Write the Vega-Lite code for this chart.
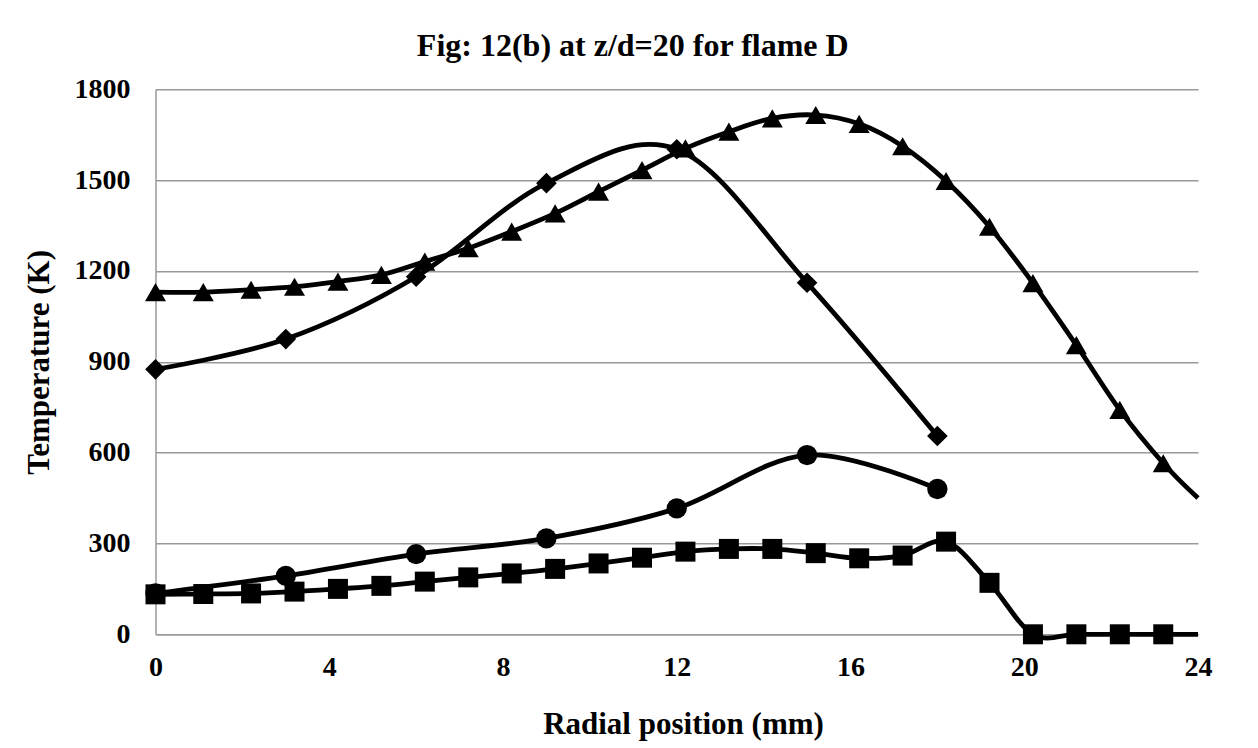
{
  "$schema": "https://vega.github.io/schema/vega-lite/v6.json",
  "width": 1042.5,
  "height": 545,
  "autosize": {"type": "none"},
  "padding": {"left": 155.5, "top": 89.3, "right": 60, "bottom": 113.7},
  "background": "white",
  "config": {"view": {"stroke": null}, "font": "Liberation Serif"},
  "title": {
    "text": "Fig: 12(b) at z/d=20 for flame D",
    "font": "Liberation Serif",
    "fontSize": 32,
    "fontWeight": "bold",
    "color": "black",
    "anchor": "middle",
    "frame": "group",
    "dx": -44,
    "baseline": "alphabetic",
    "offset": -13
  },
  "data": {
    "values": [
      {"s": "A", "x": 0, "y": 1130}, {"s": "A", "x": 1.1, "y": 1130}, {"s": "A", "x": 2.2, "y": 1138},
      {"s": "A", "x": 3.2, "y": 1148}, {"s": "A", "x": 4.2, "y": 1165}, {"s": "A", "x": 5.2, "y": 1187},
      {"s": "A", "x": 6.2, "y": 1231}, {"s": "A", "x": 7.2, "y": 1275}, {"s": "A", "x": 8.2, "y": 1330},
      {"s": "A", "x": 9.2, "y": 1390}, {"s": "A", "x": 10.2, "y": 1462}, {"s": "A", "x": 11.2, "y": 1533},
      {"s": "A", "x": 12.2, "y": 1605}, {"s": "A", "x": 13.2, "y": 1660}, {"s": "A", "x": 14.2, "y": 1704},
      {"s": "A", "x": 15.2, "y": 1715}, {"s": "A", "x": 16.2, "y": 1686}, {"s": "A", "x": 17.2, "y": 1612},
      {"s": "A", "x": 18.2, "y": 1497}, {"s": "A", "x": 19.2, "y": 1346}, {"s": "A", "x": 20.2, "y": 1160},
      {"s": "A", "x": 21.2, "y": 955}, {"s": "A", "x": 22.2, "y": 741}, {"s": "A", "x": 23.2, "y": 565},
      {"s": "A", "x": 24, "y": 450},
      {"s": "B", "x": 0, "y": 875}, {"s": "B", "x": 3, "y": 975}, {"s": "B", "x": 6, "y": 1181},
      {"s": "B", "x": 9, "y": 1490}, {"s": "B", "x": 12, "y": 1602}, {"s": "B", "x": 15, "y": 1161},
      {"s": "B", "x": 18, "y": 655},
      {"s": "C", "x": 0, "y": 135}, {"s": "C", "x": 3, "y": 193}, {"s": "C", "x": 6, "y": 265},
      {"s": "C", "x": 9, "y": 317}, {"s": "C", "x": 12, "y": 416}, {"s": "C", "x": 15, "y": 592},
      {"s": "C", "x": 18, "y": 480},
      {"s": "D", "x": 0, "y": 132}, {"s": "D", "x": 1.1, "y": 133}, {"s": "D", "x": 2.2, "y": 135},
      {"s": "D", "x": 3.2, "y": 141}, {"s": "D", "x": 4.2, "y": 150}, {"s": "D", "x": 5.2, "y": 160},
      {"s": "D", "x": 6.2, "y": 174}, {"s": "D", "x": 7.2, "y": 188}, {"s": "D", "x": 8.2, "y": 201},
      {"s": "D", "x": 9.2, "y": 216}, {"s": "D", "x": 10.2, "y": 234}, {"s": "D", "x": 11.2, "y": 253},
      {"s": "D", "x": 12.2, "y": 273}, {"s": "D", "x": 13.2, "y": 282}, {"s": "D", "x": 14.2, "y": 282},
      {"s": "D", "x": 15.2, "y": 268}, {"s": "D", "x": 16.2, "y": 251}, {"s": "D", "x": 17.2, "y": 260},
      {"s": "D", "x": 18.2, "y": 306}, {"s": "D", "x": 19.2, "y": 170}, {"s": "D", "x": 20.2, "y": 0},
      {"s": "D", "x": 21.2, "y": 0}, {"s": "D", "x": 22.2, "y": 0}, {"s": "D", "x": 23.2, "y": 0},
      {"s": "D", "x": 24, "y": 0}
    ]
  },
  "encoding": {
    "x": {
      "field": "x",
      "type": "quantitative",
      "scale": {"domain": [0, 24], "nice": false},
      "axis": {
        "values": [0, 4, 8, 12, 16, 20, 24],
        "format": "d",
        "title": "Radial position (mm)",
        "grid": false,
        "ticks": false,
        "domainColor": "#999999",
        "domainWidth": 1.5,
        "labelFlush": false,
        "labelFont": "Liberation Serif",
        "labelFontSize": 28,
        "labelFontWeight": "bold",
        "labelColor": "black",
        "labelPadding": 19,
        "titleFont": "Liberation Serif",
        "titleFontSize": 31,
        "titleFontWeight": "bold",
        "titleColor": "black",
        "titleX": 527.5,
        "titleY": 99,
        "titleAlign": "center",
        "titleBaseline": "alphabetic"
      }
    },
    "y": {
      "field": "y",
      "type": "quantitative",
      "scale": {"domain": [0, 1800], "nice": false},
      "axis": {
        "values": [0, 300, 600, 900, 1200, 1500, 1800],
        "format": "d",
        "title": "Temperature (K)",
        "grid": true,
        "gridColor": "#999999",
        "gridWidth": 1.5,
        "ticks": false,
        "domainColor": "#999999",
        "domainWidth": 1.5,
        "labelFlush": false,
        "labelFont": "Liberation Serif",
        "labelFontSize": 28,
        "labelFontWeight": "bold",
        "labelColor": "black",
        "labelPadding": 25.5,
        "labelBaseline": "middle",
        "titleFont": "Liberation Serif",
        "titleFontSize": 31,
        "titleFontWeight": "bold",
        "titleColor": "black",
        "titleAngle": -90,
        "titleX": -116,
        "titleY": 272.5,
        "titleAlign": "center",
        "titleBaseline": "middle"
      }
    }
  },
  "layer": [
    {
      "mark": {"type": "line", "interpolate": "cardinal", "strokeWidth": 4.8, "color": "black"},
      "encoding": {"detail": {"field": "s", "type": "nominal"}}
    },
    {
      "transform": [{"filter": "datum.x < 24"}],
      "mark": {"type": "point", "filled": true, "color": "black", "opacity": 1},
      "encoding": {
        "shape": {
          "field": "s",
          "type": "nominal",
          "scale": {"domain": ["A", "B", "C", "D"], "range": ["triangle-up", "diamond", "circle", "square"]},
          "legend": null
        },
        "size": {
          "field": "s",
          "type": "nominal",
          "scale": {"domain": ["A", "B", "C", "D"], "range": [440, 400, 380, 400]},
          "legend": null
        }
      }
    }
  ]
}
